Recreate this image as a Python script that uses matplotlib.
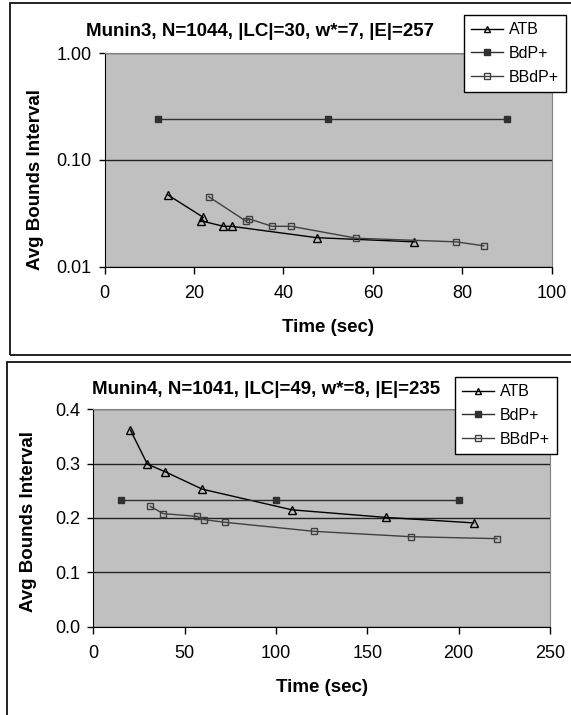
import matplotlib
matplotlib.use("Agg")
from matplotlib import pyplot as plt
from matplotlib.patches import Rectangle
from matplotlib.ticker import FixedLocator, FormatStrFormatter, NullLocator

plt.rcParams['font.family'] = ['Liberation Sans', 'DejaVu Sans']

# Munin3 (top panel), log y axis
m3_atb_t = [14.2, 22.1, 21.5, 26.6, 28.4, 47.5, 69.3]
m3_atb_v = [0.047, 0.029, 0.027, 0.0239, 0.0239, 0.0187, 0.0171]
m3_bdp_t = [12, 50, 90]
m3_bdp_v = [0.24, 0.24, 0.24]
m3_bbdp_t = [23.3, 31.6, 32.4, 37.5, 41.8, 56.3, 78.6, 84.8]
m3_bbdp_v = [0.0453, 0.0268, 0.028, 0.0239, 0.0239, 0.0185, 0.0171, 0.0157]

# Munin4 (bottom panel), linear y axis
m4_atb_t = [20.3, 29.6, 39.4, 59.7, 108.8, 160.4, 208.2]
m4_atb_v = [0.362, 0.299, 0.285, 0.253, 0.215, 0.201, 0.191]
m4_bdp_t = [15, 100, 200]
m4_bdp_v = [0.234, 0.234, 0.234]
m4_bbdp_t = [31.2, 38.3, 56.8, 60.6, 72.3, 120.8, 173.7, 221.0]
m4_bbdp_v = [0.2215, 0.208, 0.203, 0.197, 0.192, 0.1755, 0.1656, 0.162]

titles = ["Munin3, N=1044, |LC|=30, w*=7, |E|=257",
          "Munin4, N=1041, |LC|=49, w*=8, |E|=235"]
labels = ["ATB", "BdP+", "BBdP+"]

W, H = 571, 715
fig = plt.figure(figsize=(W / 100, H / 100), dpi=100)


def fx(px):
    return px / W


def fy(py):
    return 1 - py / H


# outer chart frames (they run past the right / bottom edge of the picture)
for x0, y0, x1, y1 in [(10, 3, 590, 355), (6.5, 362.5, 590, 740)]:
    fig.patches.append(Rectangle((fx(x0), fy(y1)), fx(x1) - fx(x0), fy(y0) - fy(y1),
                                 transform=fig.transFigure, fill=False,
                                 edgecolor='#111111', linewidth=1.3, clip_on=False))


def panel(rect, data, title, title_xy, ylab_xy, xlab_xy, legend_xy):
    ax = fig.add_axes(rect)
    ax.set_facecolor('#c0c0c0')
    (t1, v1), (t2, v2), (t3, v3) = data
    h1, = ax.plot(t1, v1, color='black', lw=1, marker='^', ms=6,
                  mfc='none', mec='black', mew=1)
    h2, = ax.plot(t2, v2, color='#303030', lw=1, marker='s', ms=5,
                  mfc='#303030', mec='#303030')
    h3, = ax.plot(t3, v3, color='#404040', lw=1, marker='s', ms=5,
                  mfc='none', mec='#404040', mew=1)
    for s in ['top', 'right']:
        ax.spines[s].set_color('#808080')
    for s in ['left', 'bottom']:
        ax.spines[s].set_color('black')
    ax.tick_params(direction='out', width=1, labelsize=13)
    ax.tick_params(axis='x', length=5, pad=8)
    ax.tick_params(axis='y', length=4.5, pad=5)
    ax.grid(axis='y', color='#222222', lw=1)
    ax.set_axisbelow(True)
    fig.text(fx(title_xy[0]), fy(title_xy[1]), title, ha='center', va='center',
             fontsize=13.5, fontweight='bold')
    fig.text(fx(ylab_xy[0]), fy(ylab_xy[1]), "Avg Bounds Interval", rotation=90,
             ha='center', va='center', fontsize=13.5, fontweight='bold')
    fig.text(fx(xlab_xy[0]), fy(xlab_xy[1]), "Time (sec)", ha='center', va='center',
             fontsize=13.5, fontweight='bold')
    leg = fig.legend([h1, h2, h3], labels, loc='upper left',
                     bbox_to_anchor=(fx(legend_xy[0]), fy(legend_xy[1])),
                     bbox_transform=fig.transFigure, fontsize=11.5,
                     fancybox=False, framealpha=1, edgecolor='black',
                     borderaxespad=0, borderpad=0.45, labelspacing=0.55,
                     handlelength=2.0, handletextpad=0.35, markerscale=0.75)
    leg.get_frame().set_linewidth(1)
    return ax


ax1 = panel([fx(104.5), fy(266.7), fx(551.7) - fx(104.5), fy(53.3) - fy(266.7)],
            [(m3_atb_t, m3_atb_v), (m3_bdp_t, m3_bdp_v), (m3_bbdp_t, m3_bbdp_v)],
            titles[0], (260, 31), (36, 179), (328, 327), (464, 15))
ax1.set_yscale('log')
ax1.set_ylim(0.01, 1)
ax1.set_xlim(0, 100)
ax1.yaxis.set_major_locator(FixedLocator([0.01, 0.1, 1]))
ax1.yaxis.set_minor_locator(NullLocator())
ax1.yaxis.set_major_formatter(FormatStrFormatter('%.2f'))
ax1.set_xticks(range(0, 101, 20))

ax2 = panel([fx(93.3), fy(626.7), fx(550) - fx(93.3), fy(409.3) - fy(626.7)],
            [(m4_atb_t, m4_atb_v), (m4_bdp_t, m4_bdp_v), (m4_bbdp_t, m4_bbdp_v)],
            titles[1], (266, 389), (29, 521), (322, 687), (455, 377))
ax2.set_ylim(0, 0.4)
ax2.set_xlim(0, 250)
ax2.set_yticks([0, 0.1, 0.2, 0.3, 0.4])
ax2.yaxis.set_major_formatter(FormatStrFormatter('%.1f'))
ax2.set_xticks(range(0, 251, 50))

fig.savefig('out.png', dpi=100, facecolor='white')
